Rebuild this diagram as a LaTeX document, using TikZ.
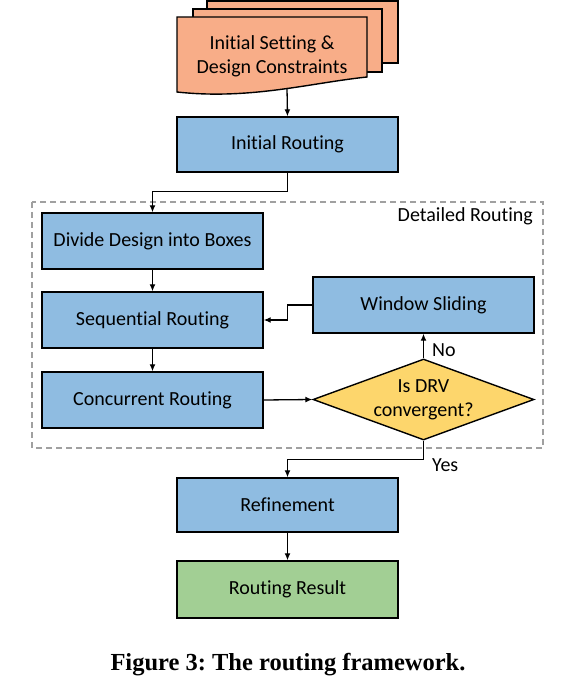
\documentclass[tikz,border=0pt]{standalone}
\usepackage{fontspec}
\setmainfont{Carlito}[Ligatures=NoCommon]
\newfontfamily\capfont{Liberation Serif}
\usetikzlibrary{shapes.geometric,arrows.meta}
\definecolor{docorange}{HTML}{F8AD88}
\definecolor{boxblue}{HTML}{8FBCE1}
\definecolor{boxgreen}{HTML}{A2CF94}
\definecolor{diayellow}{HTML}{FDD66C}
\definecolor{dashgray}{HTML}{A0A0A0}
\frenchspacing
\begin{document}
\begin{tikzpicture}[x=1pt,y=-1pt,
  every node/.style={font=\fontsize{20}{24}\selectfont, align=center},
  procbox/.style={draw=black, line width=1.4pt, fill=boxblue, minimum width=221pt, minimum height=56pt, inner sep=0pt},
  resbox/.style={procbox, fill=boxgreen},
  sheet/.style={draw=black, line width=1.4pt, fill=docorange},
  decision/.style={diamond, draw=black, line width=1.4pt, fill=diayellow, minimum width=221pt, minimum height=81pt, inner sep=0pt},
  conn/.style={draw=black, line width=1.3pt, -{Latex[length=7pt,width=6pt]}},
  lbl/.style={inner sep=0pt}]
\useasboundingbox (0,0) rectangle (566,684);
% document stack
\path[sheet] (207,1) rectangle (398,63);
\path[sheet] (193,9) rectangle (382,72);
\path[sheet] (177,17) -- (367,17) -- (367,77) .. controls (310,83) and (250,100) .. (177,92) -- cycle;
\node (doc) at (272,56) {Initial Setting \&\\Design Constraints};
\coordinate (docb) at (287,88);
% detailed routing frame
\draw[dashgray, line width=1.3pt, dash pattern=on 6pt off 4pt] (32,202) rectangle (543,448);
\node[lbl, anchor=east] (dtl) at (533,216) {Detailed Routing};
% boxes
\node[procbox, minimum height=55pt] (ir) at (287.5,144.5) {Initial Routing};
\node[procbox] (div) at (152.5,241) {Divide Design into Boxes};
\node[procbox] (seq) at (152.5,320) {Sequential Routing};
\node[procbox] (con) at (152.5,400) {Concurrent Routing};
\node[procbox] (win) at (423.5,305) {Window Sliding};
\node[decision] (dia) at (423.5,399.5) {};
\node (diat) at (423.5,400) {Is DRV\\convergent?};
\node[procbox, minimum height=54pt] (ref) at (287.5,505) {Refinement};
\node[resbox, minimum height=57pt] (res) at (287.5,589.5) {Routing Result};
% connectors
\draw[conn] (docb) -- (ir.north);
\draw[conn] (ir.south) -- ++(0,19) -| (div.north);
\draw[conn] (div.south) -- (seq.north);
\draw[conn] (seq.south) -- (con.north);
\draw[conn] (con.east) -- (dia.west);
\draw[conn] (dia.north) -- (win.south);
\draw[conn] (win.west) -- ++(-25,0) |- (seq.east);
\draw[conn] (dia.south) -- ++(0,19) -| (ref.north);
\draw[conn] (ref.south) -- (res.north);
\node[lbl, anchor=west] (no) at (432,350) {No};
\node[lbl, anchor=west] (yes) at (432,465) {Yes};
% caption
\node[anchor=base, font=\capfont\bfseries\fontsize{24.5}{28}\selectfont] (cap) at (288,670) {Figure 3: The routing framework.};
\end{tikzpicture}
\end{document}
